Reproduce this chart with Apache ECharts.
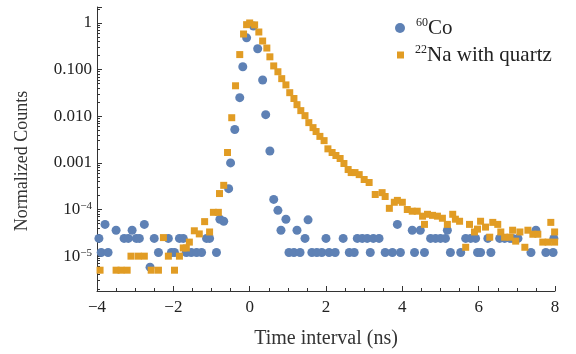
<!DOCTYPE html>
<html>
<head>
<meta charset="utf-8">
<script src="https://cdn.jsdelivr.net/npm/echarts@6/dist/echarts.min.js"></script>
<style>html,body{margin:0;padding:0;background:#fff}#c{width:576px;height:354px}</style>
</head>
<body>
<div id="c"></div>
<script>
const coX = [-3.95,-3.89,-3.79,-3.71,-3.50,-3.29,-3.18,-3.08,-2.97,-2.89,-2.76,-2.61,-2.50,-2.39,-2.13,-2.05,-1.97,-1.84,-1.74,-1.66,-1.53,-1.39,-1.26,-1.13,-1.05,-0.87,-0.78,-0.68,-0.55,-0.50,-0.39,-0.26,-0.18,-0.08,0.10,0.21,0.34,0.42,0.53,0.63,0.74,0.82,0.95,1.03,1.16,1.24,1.32,1.45,1.53,1.63,1.76,1.89,2.00,2.08,2.24,2.45,2.61,2.74,2.82,2.95,3.08,3.16,3.24,3.39,3.55,3.74,3.87,3.95,4.26,4.32,4.47,4.58,4.74,4.87,5.00,5.13,5.18,5.26,5.53,5.66,5.79,5.92,5.97,6.05,6.24,6.32,6.55,6.68,6.82,6.89,7.03,7.37,7.50,7.76,7.95,7.97];
const coY = [2.4e-5,1.2e-5,4.8e-5,1.2e-5,3.6e-5,2.4e-5,2.4e-5,3.6e-5,2.4e-5,2.4e-5,4.8e-5,5.8e-6,2.4e-5,1.2e-5,2.4e-5,1.2e-5,1.2e-5,2.4e-5,2.4e-5,1.2e-5,1.2e-5,1.2e-5,1.2e-5,2.4e-5,2.4e-5,1.2e-5,6.2e-5,5.6e-5,2.8e-4,1.0e-3,5.2e-3,0.025,0.115,0.48,0.86,0.28,0.060,0.0108,0.0018,1.65e-4,9.6e-5,3.6e-5,6.2e-5,1.2e-5,1.2e-5,3.6e-5,1.2e-5,2.4e-5,6.0e-5,1.2e-5,1.2e-5,1.2e-5,2.4e-5,1.2e-5,1.2e-5,2.4e-5,1.2e-5,1.2e-5,2.4e-5,2.4e-5,2.4e-5,1.2e-5,2.4e-5,2.4e-5,1.2e-5,1.2e-5,4.8e-5,1.2e-5,3.6e-5,1.2e-5,3.6e-5,1.2e-5,2.4e-5,2.4e-5,2.4e-5,2.4e-5,3.6e-5,1.2e-5,1.2e-5,2.4e-5,2.4e-5,2.4e-5,1.2e-5,1.2e-5,2.4e-5,1.2e-5,2.4e-5,2.4e-5,2.4e-5,2.4e-5,2.4e-5,1.2e-5,3.6e-5,1.2e-5,1.2e-5,2.4e-5];

const naX = [-3.92,-3.50,-3.37,-3.21,-3.11,-2.92,-2.76,-2.58,-2.39,-2.26,-2.13,-1.97,-1.84,-1.74,-1.66,-1.58,-1.45,-1.32,-1.18,-1.05,-0.95,-0.82,-0.79,-0.68,-0.58,-0.47,-0.37,-0.26,-0.16,-0.08,0.00,0.13,0.24,0.34,0.45,0.53,0.63,0.74,0.84,0.95,1.05,1.16,1.24,1.34,1.45,1.55,1.66,1.74,1.84,1.95,2.05,2.16,2.26,2.37,2.47,2.58,2.66,2.76,2.87,3.00,3.13,3.29,3.47,3.55,3.66,3.79,3.87,4.00,4.13,4.26,4.39,4.53,4.58,4.66,4.79,4.92,5.05,5.18,5.32,5.39,5.50,5.66,5.76,5.89,5.97,6.05,6.18,6.29,6.37,6.50,6.58,6.68,6.82,6.89,6.97,7.08,7.21,7.29,7.42,7.55,7.68,7.82,7.89,7.99,7.99];
const naY = [5e-6,5e-6,5e-6,5e-6,1e-5,1e-5,1e-5,5e-6,5e-6,2.5e-5,1e-5,5e-6,1e-5,1.5e-5,1.5e-5,2e-5,3.5e-5,3e-5,5.5e-5,3.3e-5,8.7e-5,8.7e-5,2.2e-4,3.3e-4,1.67e-3,9.3e-3,0.045,0.21,0.58,0.92,1.0,0.91,0.64,0.41,0.29,0.188,0.12,0.090,0.064,0.047,0.032,0.024,0.0177,0.0132,0.0103,0.0073,0.0057,0.0047,0.0037,0.0030,0.0020,0.00167,0.00144,0.00124,0.00097,7.2e-4,6.2e-4,6.2e-4,5.6e-4,4.4e-4,3.8e-4,2.1e-4,2.3e-4,1.9e-4,1.06e-4,1.43e-4,1.57e-4,1.43e-4,1.0e-4,9.2e-5,9.2e-5,7.2e-5,4.8e-5,7.9e-5,7.5e-5,7.2e-5,6.5e-5,4.8e-5,7.9e-5,6.2e-5,5.6e-5,1.55e-5,4.8e-5,3.3e-5,3.8e-5,5.6e-5,4.2e-5,2.55e-5,5.3e-5,4.8e-5,3.3e-5,2.55e-5,2.55e-5,3.6e-5,2.1e-5,3.3e-5,1.55e-5,3.6e-5,2.95e-5,2.95e-5,2e-5,2e-5,5.3e-5,3.3e-5,2e-5];

const xTicks = [-4,-2,0,2,4,6,8];
const yTickLabels = {"0":"1","-1":"0.100","-2":"0.010","-3":"0.001","-4":"10{sup|−4}","-5":"10{sup|−5}"};
const seriesNames = ["60Co","22Na with quartz"];

const coData = coX.map((x,i)=>[x,coY[i]]);
const naData = naX.map((x,i)=>[x,naY[i]]);

const FONT = "Liberation Serif";
const chart = echarts.init(document.getElementById('c'), null, {renderer:'canvas'});
const supRich = {sup:{fontSize:12, verticalAlign:'top', lineHeight:22, fontFamily:FONT, color:'#222', padding:[0,0,0,6]}};
const mRich = {m:{fontSize:21, lineHeight:22, fontFamily:FONT, color:'#222'}};
chart.setOption({
  animation:false,
  backgroundColor:'#fff',
  grid:{left:97, right:21, top:7, bottom:62, containLabel:false},
  legend:[
    {data:[{name:seriesNames[0], icon:'circle'}], left:390, top:12, itemWidth:10, itemHeight:10, itemGap:0,
     formatter:()=>'{sup|60}{m|Co}',
     textStyle:{fontFamily:FONT, fontSize:21, color:'#222', rich:Object.assign({}, mRich, supRich)}},
    {data:[{name:seriesNames[1], icon:'rect'}], left:392, top:39, itemWidth:7, itemHeight:7, itemGap:0,
     formatter:()=>'{sup|22}{m|Na with quartz}',
     textStyle:{fontFamily:FONT, fontSize:21, color:'#222', rich:Object.assign({}, mRich, supRich)}}
  ],
  xAxis:{
    type:'value', min:-4, max:8, interval:2,
    name:'Time interval (ns)', nameLocation:'middle', nameGap:38,
    nameTextStyle:{fontFamily:FONT, fontSize:20, color:'#333'},
    axisLine:{show:true, onZero:false, lineStyle:{color:'#333', width:1}},
    axisTick:{show:true, inside:true, length:5, lineStyle:{color:'#333'}},
    minorTick:{show:true, splitNumber:4, length:3, lineStyle:{color:'#333'}},
    splitLine:{show:false},
    axisLabel:{margin:8, fontFamily:FONT, fontSize:17, color:'#222',
      formatter:(v)=> xTicks.includes(v) ? (v<0 ? '−'+Math.abs(v) : String(v)) : ''}
  },
  yAxis:{
    type:'log', logBase:10, min:1.79e-6, max:2.2,
    name:'Normalized Counts', nameLocation:'middle', nameGap:66, nameRotate:90,
    nameTextStyle:{fontFamily:FONT, fontSize:18, color:'#333', padding:[0,24,0,0]},
    axisLine:{show:true, onZero:false, lineStyle:{color:'#333', width:1}},
    axisTick:{show:true, inside:true, length:5, lineStyle:{color:'#333'}},
    minorTick:{show:true, splitNumber:9, length:3, lineStyle:{color:'#333'}},
    splitLine:{show:false},
    axisLabel:{margin:5, fontFamily:FONT, fontSize:17, color:'#222', showMinLabel:false, showMaxLabel:false,
      rich:{sup:{fontSize:11, verticalAlign:'top', lineHeight:18, fontFamily:FONT, color:'#222'}},
      formatter:(v)=>{ const e = Math.round(Math.log10(v)); if (Math.abs(Math.log10(v)-e)>1e-6) return ''; const s = yTickLabels[String(e)]; return s===undefined?'':s; }}
  },
  series:[
    {name:seriesNames[0], type:'scatter', data:coData, symbol:'circle', symbolSize:9, itemStyle:{color:'#5E81B5', opacity:1}, z:2},
    {name:seriesNames[1], type:'scatter', data:naData, symbol:'rect', symbolSize:7, itemStyle:{color:'#E19C24', opacity:1}, z:3}
  ]
});
</script>
</body>
</html>
